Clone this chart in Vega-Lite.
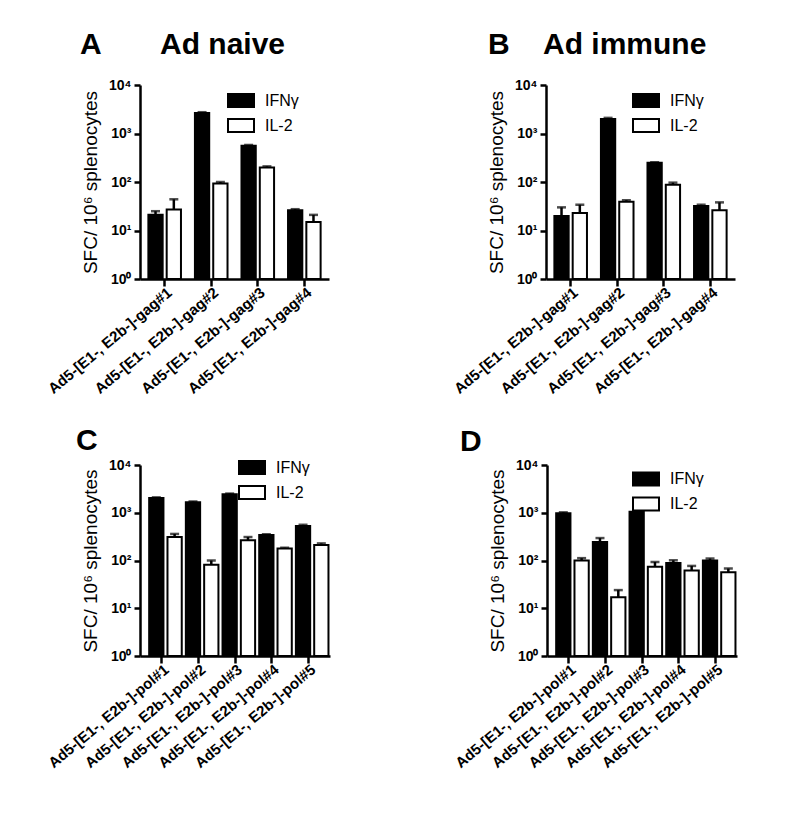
{
  "$schema": "https://vega.github.io/schema/vega-lite/v6.json",
  "padding": {"left": 45, "top": 30, "right": 5, "bottom": 5},
  "background": "white",
  "config": {
    "font": "Liberation Sans",
    "view": {"stroke": null},
    "title": {"fontSize": 30, "fontWeight": "bold", "anchor": "start", "frame": "group", "color": "black", "offset": 18},
    "legend": {"title": null, "orient": "none", "symbolType": "M-1,-0.5H1V0.5H-1Z", "symbolSize": 676, "symbolStrokeColor": "black", "symbolStrokeWidth": 2, "labelFontSize": 16, "labelOffset": 10, "rowPadding": -4, "padding": 0, "labelColor": "black"}
  },
  "datasets": {
    "gag_naive": [
      {"g": "Ad5-[E1-, E2b-]-gag#1", "c": "IFNγ", "v": 21, "e": 25},
      {"g": "Ad5-[E1-, E2b-]-gag#1", "c": "IL-2", "v": 27, "e": 44},
      {"g": "Ad5-[E1-, E2b-]-gag#2", "c": "IFNγ", "v": 2650, "e": 2750},
      {"g": "Ad5-[E1-, E2b-]-gag#2", "c": "IL-2", "v": 93, "e": 100},
      {"g": "Ad5-[E1-, E2b-]-gag#3", "c": "IFNγ", "v": 560, "e": 580},
      {"g": "Ad5-[E1-, E2b-]-gag#3", "c": "IL-2", "v": 200, "e": 210},
      {"g": "Ad5-[E1-, E2b-]-gag#4", "c": "IFNγ", "v": 26, "e": 27.5},
      {"g": "Ad5-[E1-, E2b-]-gag#4", "c": "IL-2", "v": 15, "e": 21}
    ],
    "gag_immune": [
      {"g": "Ad5-[E1-, E2b-]-gag#1", "c": "IFNγ", "v": 20, "e": 30},
      {"g": "Ad5-[E1-, E2b-]-gag#1", "c": "IL-2", "v": 23, "e": 34},
      {"g": "Ad5-[E1-, E2b-]-gag#2", "c": "IFNγ", "v": 2000, "e": 2100},
      {"g": "Ad5-[E1-, E2b-]-gag#2", "c": "IL-2", "v": 39, "e": 42},
      {"g": "Ad5-[E1-, E2b-]-gag#3", "c": "IFNγ", "v": 250, "e": 255},
      {"g": "Ad5-[E1-, E2b-]-gag#3", "c": "IL-2", "v": 88, "e": 97},
      {"g": "Ad5-[E1-, E2b-]-gag#4", "c": "IFNγ", "v": 32, "e": 34},
      {"g": "Ad5-[E1-, E2b-]-gag#4", "c": "IL-2", "v": 26, "e": 38}
    ],
    "pol_naive": [
      {"g": "Ad5-[E1-, E2b-]-pol#1", "c": "IFNγ", "v": 2040, "e": 2100},
      {"g": "Ad5-[E1-, E2b-]-pol#1", "c": "IL-2", "v": 310, "e": 360},
      {"g": "Ad5-[E1-, E2b-]-pol#2", "c": "IFNγ", "v": 1660, "e": 1720},
      {"g": "Ad5-[E1-, E2b-]-pol#2", "c": "IL-2", "v": 81, "e": 100},
      {"g": "Ad5-[E1-, E2b-]-pol#3", "c": "IFNγ", "v": 2450, "e": 2520},
      {"g": "Ad5-[E1-, E2b-]-pol#3", "c": "IL-2", "v": 265, "e": 310},
      {"g": "Ad5-[E1-, E2b-]-pol#4", "c": "IFNγ", "v": 340, "e": 355},
      {"g": "Ad5-[E1-, E2b-]-pol#4", "c": "IL-2", "v": 178, "e": 185},
      {"g": "Ad5-[E1-, E2b-]-pol#5", "c": "IFNγ", "v": 530, "e": 560},
      {"g": "Ad5-[E1-, E2b-]-pol#5", "c": "IL-2", "v": 210, "e": 228}
    ],
    "pol_immune": [
      {"g": "Ad5-[E1-, E2b-]-pol#1", "c": "IFNγ", "v": 980, "e": 1020},
      {"g": "Ad5-[E1-, E2b-]-pol#1", "c": "IL-2", "v": 100, "e": 112},
      {"g": "Ad5-[E1-, E2b-]-pol#2", "c": "IFNγ", "v": 245, "e": 295},
      {"g": "Ad5-[E1-, E2b-]-pol#2", "c": "IL-2", "v": 17, "e": 24},
      {"g": "Ad5-[E1-, E2b-]-pol#3", "c": "IFNγ", "v": 1050, "e": 1200},
      {"g": "Ad5-[E1-, E2b-]-pol#3", "c": "IL-2", "v": 74, "e": 93},
      {"g": "Ad5-[E1-, E2b-]-pol#4", "c": "IFNγ", "v": 89, "e": 101},
      {"g": "Ad5-[E1-, E2b-]-pol#4", "c": "IL-2", "v": 62, "e": 77},
      {"g": "Ad5-[E1-, E2b-]-pol#5", "c": "IFNγ", "v": 100, "e": 110},
      {"g": "Ad5-[E1-, E2b-]-pol#5", "c": "IL-2", "v": 57, "e": 68}
    ]
  },
  "spacing": 28,
  "resolve": {"scale": {"fill": "independent"}, "legend": {"fill": "independent"}},
  "vconcat": [
    {
      "spacing": 122,
      "resolve": {"scale": {"fill": "independent"}, "legend": {"fill": "independent"}},
      "hconcat": [
        {
          "width": 189, "height": 194,
          "title": {"text": "A\u00a0\u00a0\u00a0\u00a0\u00a0\u00a0\u00a0Ad naive", "dx": -60},
          "data": {"name": "gag_naive"},
          "encoding": {
            "x": {"field": "g", "type": "nominal", "title": null, "scale": {"paddingInner": 0.3, "paddingOuter": 0.18},
                  "axis": {"domain": true, "ticks": true, "domainColor": "#000000", "domainWidth": 2.5, "tickColor": "#000000", "tickWidth": 2.5, "tickSize": 7, "labelAngle": -40, "labelAlign": "right", "labelBaseline": "middle", "labelOffset": 5, "labelPadding": 4, "labelFontSize": 15, "labelFontWeight": "bold", "labelColor": "black", "labelLimit": 300, "grid": false, "zindex": 2}},
            "xOffset": {"field": "c", "type": "nominal", "scale": {"paddingInner": 0.22}}
          },
          "layer": [
            {"mark": {"type": "bar", "stroke": "black", "strokeWidth": 2},
             "encoding": {
               "y": {"field": "v", "type": "quantitative", "stack": null, "title": "SFC/ 10⁶ splenocytes", "scale": {"type": "log", "domain": [1, 10000], "nice": false},
                     "axis": {"values": [1, 10, 100, 1000, 10000], "labelExpr": "'10' + ['⁰','¹','²','³','⁴'][round(log(datum.value)/LN10)]", "domain": true, "ticks": true, "domainColor": "#000000", "domainWidth": 2.5, "tickColor": "#000000", "tickWidth": 2.5, "tickSize": 6, "labelFontSize": 14, "labelFontWeight": "bold", "labelColor": "black", "labelPadding": 3, "titleFontSize": 19, "titleFontWeight": "normal", "titleColor": "black", "titlePadding": 8, "grid": false, "zindex": 2}},
               "y2": {"datum": 1},
               "fill": {"field": "c", "type": "nominal", "scale": {"domain": ["IFNγ", "IL-2"], "range": ["black", "white"]}, "legend": {"legendX": 87, "legendY": 1.5}}
             }},
            {"mark": {"type": "rule", "strokeWidth": 2.5, "color": "black"},
             "encoding": {"y": {"field": "v", "type": "quantitative", "title": "SFC/ 10⁶ splenocytes"}, "y2": {"field": "e"}}},
            {"mark": {"type": "tick", "thickness": 2.5, "size": 9, "color": "black"},
             "encoding": {"y": {"field": "e", "type": "quantitative", "title": "SFC/ 10⁶ splenocytes"}}}
          ]
        },
        {
          "width": 189, "height": 194,
          "title": {"text": "B\u00a0\u00a0\u00a0\u00a0Ad immune", "dx": -58},
          "data": {"name": "gag_immune"},
          "encoding": {
            "x": {"field": "g", "type": "nominal", "title": null, "scale": {"paddingInner": 0.3, "paddingOuter": 0.18},
                  "axis": {"domain": true, "ticks": true, "domainColor": "#000000", "domainWidth": 2.5, "tickColor": "#000000", "tickWidth": 2.5, "tickSize": 7, "labelAngle": -40, "labelAlign": "right", "labelBaseline": "middle", "labelOffset": 5, "labelPadding": 4, "labelFontSize": 15, "labelFontWeight": "bold", "labelColor": "black", "labelLimit": 300, "grid": false, "zindex": 2}},
            "xOffset": {"field": "c", "type": "nominal", "scale": {"paddingInner": 0.22}}
          },
          "layer": [
            {"mark": {"type": "bar", "stroke": "black", "strokeWidth": 2},
             "encoding": {
               "y": {"field": "v", "type": "quantitative", "stack": null, "title": "SFC/ 10⁶ splenocytes", "scale": {"type": "log", "domain": [1, 10000], "nice": false},
                     "axis": {"values": [1, 10, 100, 1000, 10000], "labelExpr": "'10' + ['⁰','¹','²','³','⁴'][round(log(datum.value)/LN10)]", "domain": true, "ticks": true, "domainColor": "#000000", "domainWidth": 2.5, "tickColor": "#000000", "tickWidth": 2.5, "tickSize": 6, "labelFontSize": 14, "labelFontWeight": "bold", "labelColor": "black", "labelPadding": 3, "titleFontSize": 19, "titleFontWeight": "normal", "titleColor": "black", "titlePadding": 8, "grid": false, "zindex": 2}},
               "y2": {"datum": 1},
               "fill": {"field": "c", "type": "nominal", "scale": {"domain": ["IFNγ", "IL-2"], "range": ["black", "white"]}, "legend": {"legendX": 86, "legendY": 1.5}}
             }},
            {"mark": {"type": "rule", "strokeWidth": 2.5, "color": "black"},
             "encoding": {"y": {"field": "v", "type": "quantitative", "title": "SFC/ 10⁶ splenocytes"}, "y2": {"field": "e"}}},
            {"mark": {"type": "tick", "thickness": 2.5, "size": 9, "color": "black"},
             "encoding": {"y": {"field": "e", "type": "quantitative", "title": "SFC/ 10⁶ splenocytes"}}}
          ]
        }
      ]
    },
    {
      "spacing": 122,
      "resolve": {"scale": {"fill": "independent"}, "legend": {"fill": "independent"}},
      "hconcat": [
        {
          "width": 190, "height": 191,
          "title": {"text": "C", "dx": -64, "offset": -2},
          "data": {"name": "pol_naive"},
          "encoding": {
            "x": {"field": "g", "type": "nominal", "title": null, "scale": {"paddingInner": 0.32, "paddingOuter": 0.25},
                  "axis": {"domain": true, "ticks": true, "domainColor": "#000000", "domainWidth": 2.5, "tickColor": "#000000", "tickWidth": 2.5, "tickSize": 7, "labelAngle": -40, "labelAlign": "right", "labelBaseline": "middle", "labelOffset": 5, "labelPadding": 4, "labelFontSize": 15, "labelFontWeight": "bold", "labelColor": "black", "labelLimit": 300, "grid": false, "zindex": 2}},
            "xOffset": {"field": "c", "type": "nominal", "scale": {"paddingInner": 0.22}}
          },
          "layer": [
            {"mark": {"type": "bar", "stroke": "black", "strokeWidth": 2},
             "encoding": {
               "y": {"field": "v", "type": "quantitative", "stack": null, "title": "SFC/ 10⁶ splenocytes", "scale": {"type": "log", "domain": [1, 10000], "nice": false},
                     "axis": {"values": [1, 10, 100, 1000, 10000], "labelExpr": "'10' + ['⁰','¹','²','³','⁴'][round(log(datum.value)/LN10)]", "domain": true, "ticks": true, "domainColor": "#000000", "domainWidth": 2.5, "tickColor": "#000000", "tickWidth": 2.5, "tickSize": 6, "labelFontSize": 14, "labelFontWeight": "bold", "labelColor": "black", "labelPadding": 3, "titleFontSize": 19, "titleFontWeight": "normal", "titleColor": "black", "titlePadding": 8, "grid": false, "zindex": 2}},
               "y2": {"datum": 1},
               "fill": {"field": "c", "type": "nominal", "scale": {"domain": ["IFNγ", "IL-2"], "range": ["black", "white"]}, "legend": {"legendX": 98, "legendY": -11.5}}
             }},
            {"mark": {"type": "rule", "strokeWidth": 2.5, "color": "black"},
             "encoding": {"y": {"field": "v", "type": "quantitative", "title": "SFC/ 10⁶ splenocytes"}, "y2": {"field": "e"}}},
            {"mark": {"type": "tick", "thickness": 2.5, "size": 9, "color": "black"},
             "encoding": {"y": {"field": "e", "type": "quantitative", "title": "SFC/ 10⁶ splenocytes"}}}
          ]
        },
        {
          "width": 190, "height": 191,
          "title": {"text": "D", "dx": -87, "offset": 1},
          "data": {"name": "pol_immune"},
          "encoding": {
            "x": {"field": "g", "type": "nominal", "title": null, "scale": {"paddingInner": 0.32, "paddingOuter": 0.25},
                  "axis": {"domain": true, "ticks": true, "domainColor": "#000000", "domainWidth": 2.5, "tickColor": "#000000", "tickWidth": 2.5, "tickSize": 7, "labelAngle": -40, "labelAlign": "right", "labelBaseline": "middle", "labelOffset": 5, "labelPadding": 4, "labelFontSize": 15, "labelFontWeight": "bold", "labelColor": "black", "labelLimit": 300, "grid": false, "zindex": 2}},
            "xOffset": {"field": "c", "type": "nominal", "scale": {"paddingInner": 0.22}}
          },
          "layer": [
            {"mark": {"type": "bar", "stroke": "black", "strokeWidth": 2},
             "encoding": {
               "y": {"field": "v", "type": "quantitative", "stack": null, "title": "SFC/ 10⁶ splenocytes", "scale": {"type": "log", "domain": [1, 10000], "nice": false},
                     "axis": {"values": [1, 10, 100, 1000, 10000], "labelExpr": "'10' + ['⁰','¹','²','³','⁴'][round(log(datum.value)/LN10)]", "domain": true, "ticks": true, "domainColor": "#000000", "domainWidth": 2.5, "tickColor": "#000000", "tickWidth": 2.5, "tickSize": 6, "labelFontSize": 14, "labelFontWeight": "bold", "labelColor": "black", "labelPadding": 3, "titleFontSize": 19, "titleFontWeight": "normal", "titleColor": "black", "titlePadding": 8, "grid": false, "zindex": 2}},
               "y2": {"datum": 1},
               "fill": {"field": "c", "type": "nominal", "scale": {"domain": ["IFNγ", "IL-2"], "range": ["black", "white"]}, "legend": {"legendX": 85, "legendY": 0}}
             }},
            {"mark": {"type": "rule", "strokeWidth": 2.5, "color": "black"},
             "encoding": {"y": {"field": "v", "type": "quantitative", "title": "SFC/ 10⁶ splenocytes"}, "y2": {"field": "e"}}},
            {"mark": {"type": "tick", "thickness": 2.5, "size": 9, "color": "black"},
             "encoding": {"y": {"field": "e", "type": "quantitative", "title": "SFC/ 10⁶ splenocytes"}}}
          ]
        }
      ]
    }
  ]
}
